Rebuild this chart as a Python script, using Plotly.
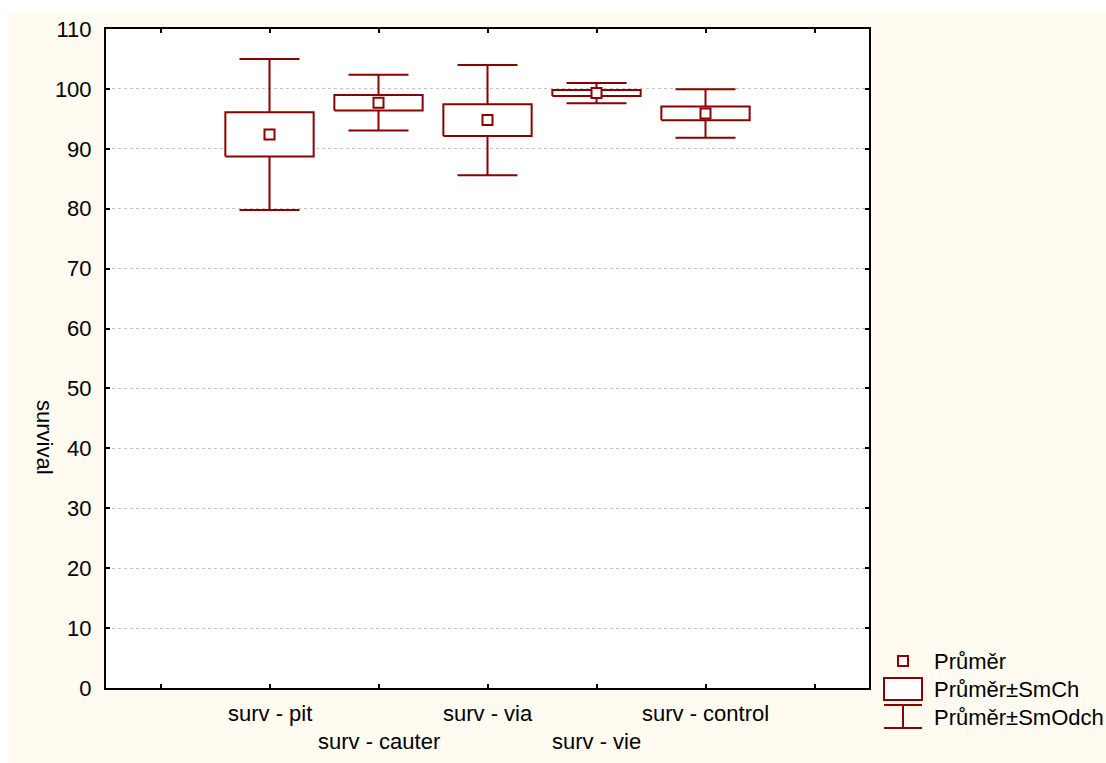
import plotly.graph_objects as go

# ---- data ----
categories = ["surv - pit", "surv - cauter", "surv - via", "surv - vie", "surv - control"]
means = [92.4, 97.7, 94.8, 99.3, 95.9]
se = [3.7, 1.3, 2.65, 0.5, 1.15]        # Průměr ± SmCh (box)
sd = [12.6, 4.65, 9.2, 1.7, 4.05]       # Průměr ± SmOdch (whiskers)
y_ticks = list(range(0, 111, 10))
legend_labels = ["Průměr", "Průměr±SmCh", "Průměr±SmOdch"]
y_title = "survival"

RED = "#8B0000"
CREAM = "#FFFBF0"
FONT = "Liberation Sans, Arial, sans-serif"
FS = 22
BOX_HALF = 0.405   # half box width in category units

W, H = 1106, 763
L, R, T, B = 106, 237, 29, 75
PW, PH = W - L - R, H - T - B

def px_x(px):
    return (px - L) / PW

def px_y(py):
    return (H - B - py) / PH

pos = list(range(len(categories)))

fig = go.Figure()
# whiskers: mean ± SD as error bars (drawn first, under the boxes)
fig.add_trace(go.Scatter(
    x=pos, y=means, mode="markers",
    marker=dict(size=1, color="rgba(0,0,0,0)"),
    error_y=dict(type="data", array=sd, symmetric=True, color=RED, thickness=2, width=30),
    hoverinfo="skip", showlegend=False,
))
# boxes: mean ± SE
for p, m, s in zip(pos, means, se):
    fig.add_trace(go.Scatter(
        x=[p - BOX_HALF, p + BOX_HALF, p + BOX_HALF, p - BOX_HALF, p - BOX_HALF],
        y=[m - s, m - s, m + s, m + s, m - s],
        mode="lines", fill="toself", fillcolor="white",
        line=dict(color=RED, width=2),
        hoverinfo="skip", showlegend=False,
    ))
# means
fig.add_trace(go.Scatter(
    x=pos, y=means, mode="markers",
    marker=dict(symbol="square", size=10, color="white", line=dict(color=RED, width=2)),
    hoverinfo="skip", showlegend=False,
))

shapes = [
    # cream background with white border at top/left
    dict(type="rect", xref="paper", yref="paper", layer="below",
         x0=px_x(8), x1=px_x(W + 5), y0=px_y(H + 5), y1=px_y(11),
         fillcolor=CREAM, line=dict(width=0)),
    # white plot area
    dict(type="rect", xref="paper", yref="paper", layer="below",
         x0=0, x1=1, y0=0, y1=1, fillcolor="white", line=dict(width=0)),
    # legend glyphs
    dict(type="rect", xref="paper", yref="paper",
         x0=px_x(898), x1=px_x(908), y0=px_y(666), y1=px_y(656),
         fillcolor="white", line=dict(color=RED, width=2)),
    dict(type="rect", xref="paper", yref="paper",
         x0=px_x(884), x1=px_x(922), y0=px_y(700), y1=px_y(678),
         fillcolor="white", line=dict(color=RED, width=2)),
    dict(type="line", xref="paper", yref="paper",
         x0=px_x(884), x1=px_x(922), y0=px_y(705), y1=px_y(705),
         line=dict(color=RED, width=2)),
    dict(type="line", xref="paper", yref="paper",
         x0=px_x(884), x1=px_x(922), y0=px_y(728), y1=px_y(728),
         line=dict(color=RED, width=2)),
    dict(type="line", xref="paper", yref="paper",
         x0=px_x(903), x1=px_x(903), y0=px_y(705), y1=px_y(728),
         line=dict(color=RED, width=2)),
]

annotations = []
for i, lab in enumerate(categories):
    annotations.append(dict(
        x=pos[i], xref="x", y=0, yref="paper", yanchor="middle", xanchor="center",
        yshift=-25 if i % 2 == 0 else -53, text=lab, showarrow=False,
        font=dict(family=FONT, size=FS, color="black")))
for lab, cy in zip(legend_labels, [661, 689, 717]):
    annotations.append(dict(
        x=px_x(932), xref="paper", y=px_y(cy), yref="paper", xanchor="left", yanchor="middle",
        text=lab, showarrow=False, font=dict(family=FONT, size=FS, color="black")))
annotations.append(dict(
    x=px_x(45), xref="paper", y=px_y(437), yref="paper", xanchor="center", yanchor="middle",
    text=y_title, textangle=90, showarrow=False,
    font=dict(family=FONT, size=FS, color="black")))

fig.update_layout(
    width=W, height=H,
    margin=dict(l=L, r=R, t=T, b=B),
    paper_bgcolor="white",
    plot_bgcolor="white",
    font=dict(family=FONT, size=FS, color="black"),
    shapes=shapes,
    annotations=annotations,
    showlegend=False,
    xaxis=dict(
        range=[-1.5, 5.5], tickvals=list(range(-1, 6)), showticklabels=False,
        ticks="inside", ticklen=4, tickwidth=1.5, tickcolor="black",
        showline=True, linecolor="black", linewidth=2, mirror="ticks",
        showgrid=False, zeroline=False,
    ),
    yaxis=dict(
        range=[0, 110], tickvals=y_ticks, ticks="inside", ticklen=4, tickwidth=1.5,
        tickcolor="black", showline=True, linecolor="black", linewidth=2, mirror="ticks",
        showgrid=True, gridcolor="#c4c4c4", griddash="dot", gridwidth=1,
        zeroline=False, ticklabelstandoff=8,
        tickfont=dict(family=FONT, size=FS, color="black"),
    ),
)

fig.write_html("out.html")
